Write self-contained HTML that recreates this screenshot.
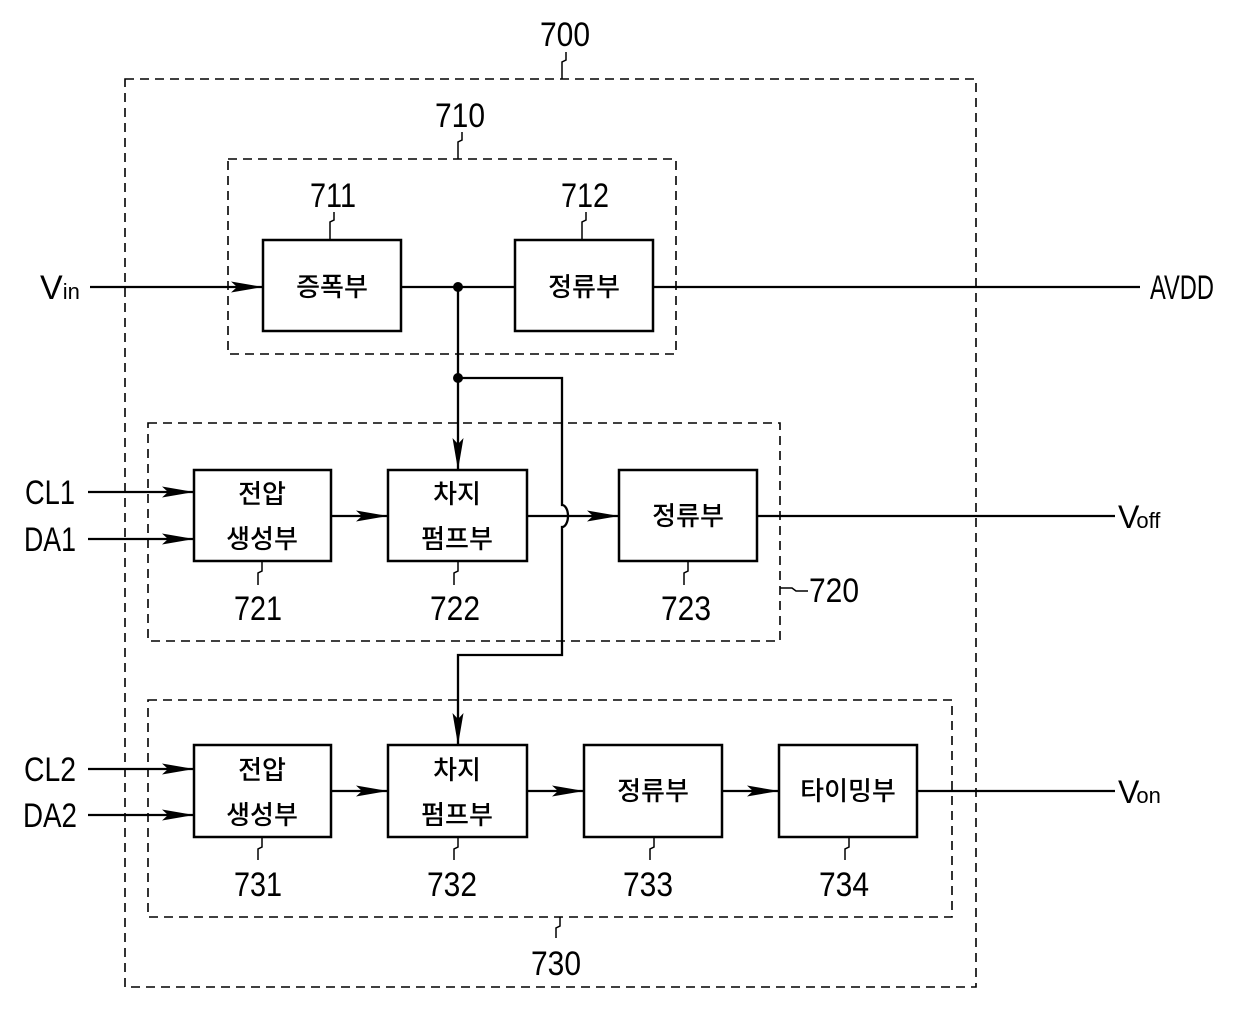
<!DOCTYPE html>
<html><head><meta charset="utf-8"><style>html,body{margin:0;padding:0;background:#fff}</style></head>
<body>
<svg width="1240" height="1014" viewBox="0 0 1240 1014" xmlns="http://www.w3.org/2000/svg">
<defs>
<marker id="a" markerWidth="32" markerHeight="14" refX="32" refY="7" orient="auto" markerUnits="userSpaceOnUse">
<path d="M0,1.5 L32,7 L0,12.5 L6,7 Z" fill="#000"/>
</marker>
</defs>
<g fill="none" stroke="#000" stroke-width="1.6" stroke-dasharray="9,6">
<rect x="125" y="79" width="851" height="908"/>
<rect x="228" y="159" width="448" height="195"/>
<rect x="148" y="423" width="632" height="218"/>
<rect x="148" y="700" width="804" height="217"/>
</g>
<g fill="#fff" stroke="#000" stroke-width="2.5">
<rect x="263" y="240" width="138" height="91"/>
<rect x="515" y="240" width="138" height="91"/>
<rect x="194" y="470" width="137" height="91"/>
<rect x="388" y="470" width="139" height="91"/>
<rect x="619" y="470" width="138" height="91"/>
<rect x="194" y="745" width="137" height="92"/>
<rect x="388" y="745" width="139" height="92"/>
<rect x="584" y="745" width="138" height="92"/>
<rect x="779" y="745" width="138" height="92"/>
</g>
<g fill="none" stroke="#000" stroke-width="2.3">
<line x1="90" y1="287" x2="263" y2="287" marker-end="url(#a)"/>
<line x1="401" y1="287" x2="515" y2="287"/>
<line x1="653" y1="287" x2="1140" y2="287"/>
<line x1="458" y1="287" x2="458" y2="470" marker-end="url(#a)"/>
<path d="M458,378 H562 V505 A6,11 0 0 1 562,527 V655 H458 V745" marker-end="url(#a)"/>
<line x1="88" y1="492" x2="194" y2="492" marker-end="url(#a)"/>
<line x1="88" y1="539" x2="194" y2="539" marker-end="url(#a)"/>
<line x1="331" y1="516" x2="388" y2="516" marker-end="url(#a)"/>
<line x1="527" y1="516" x2="619" y2="516" marker-end="url(#a)"/>
<line x1="757" y1="516" x2="1115" y2="516"/>
<line x1="88" y1="769" x2="194" y2="769" marker-end="url(#a)"/>
<line x1="88" y1="815" x2="194" y2="815" marker-end="url(#a)"/>
<line x1="331" y1="791" x2="388" y2="791" marker-end="url(#a)"/>
<line x1="527" y1="791" x2="584" y2="791" marker-end="url(#a)"/>
<line x1="722" y1="791" x2="779" y2="791" marker-end="url(#a)"/>
<line x1="917" y1="791" x2="1115" y2="791"/>
</g>
<g fill="#000"><circle cx="458" cy="287" r="5"/><circle cx="458" cy="378" r="5"/></g>
<g fill="none" stroke="#000" stroke-width="1.5">
<path d="M566,52 V60 L562,62 V79"/>
<path d="M462,132 V140 L458,142 V159"/>
<path d="M334,212 V220 L330,222 V240"/>
<path d="M586,212 V220 L582,222 V240"/>
<path d="M262,561 V571 L258,573 V585"/>
<path d="M458,561 V571 L454,573 V585"/>
<path d="M688,561 V571 L684,573 V585"/>
<path d="M262,837 V847 L258,849 V860"/>
<path d="M458,837 V847 L454,849 V860"/>
<path d="M654,837 V847 L650,849 V860"/>
<path d="M849,837 V847 L845,849 V860"/>
<path d="M560,917 V926 L556,928 V938"/>
<path d="M780,588 H792 L796,591 H808"/>
</g>
<g font-family="'Liberation Sans', sans-serif" font-size="34" fill="#000" text-anchor="middle">
<text x="565" y="46" textLength="50" lengthAdjust="spacingAndGlyphs">700</text>
<text x="460" y="127" textLength="50" lengthAdjust="spacingAndGlyphs">710</text>
<text x="333" y="207" textLength="46" lengthAdjust="spacingAndGlyphs">711</text>
<text x="585" y="207" textLength="48" lengthAdjust="spacingAndGlyphs">712</text>
<text x="258" y="620" textLength="48" lengthAdjust="spacingAndGlyphs">721</text>
<text x="455" y="620" textLength="50" lengthAdjust="spacingAndGlyphs">722</text>
<text x="686" y="620" textLength="50" lengthAdjust="spacingAndGlyphs">723</text>
<text x="834" y="602" textLength="50" lengthAdjust="spacingAndGlyphs">720</text>
<text x="258" y="896" textLength="48" lengthAdjust="spacingAndGlyphs">731</text>
<text x="452" y="896" textLength="50" lengthAdjust="spacingAndGlyphs">732</text>
<text x="648" y="896" textLength="50" lengthAdjust="spacingAndGlyphs">733</text>
<text x="844" y="896" textLength="50" lengthAdjust="spacingAndGlyphs">734</text>
<text x="556" y="975" textLength="50" lengthAdjust="spacingAndGlyphs">730</text>
<text x="1182" y="299" textLength="64" lengthAdjust="spacingAndGlyphs">AVDD</text>
<text x="50" y="504" textLength="50" lengthAdjust="spacingAndGlyphs">CL1</text>
<text x="50" y="551" textLength="52" lengthAdjust="spacingAndGlyphs">DA1</text>
<text x="50" y="781" textLength="52" lengthAdjust="spacingAndGlyphs">CL2</text>
<text x="50" y="827" textLength="54" lengthAdjust="spacingAndGlyphs">DA2</text>
</g>
<g font-family="'Liberation Sans', sans-serif" fill="#000">
<text x="40" y="299" font-size="34">V<tspan font-size="22">in</tspan></text>
<text x="1118" y="528" font-size="32">V<tspan font-size="22" dx="-3">off</tspan></text>
<text x="1118" y="803" font-size="32">V<tspan font-size="22" dx="-3">on</tspan></text>
</g>
<g font-family="'Liberation Sans', 'Noto Sans CJK KR', 'NanumGothic', sans-serif" font-size="26" font-weight="500" fill="#000" text-anchor="middle">
<text x="332" y="296">증폭부</text>
<text x="584" y="296">정류부</text>
<text x="262" y="503">전압</text>
<text x="262" y="548">생성부</text>
<text x="457" y="503">차지</text>
<text x="457" y="548">펌프부</text>
<text x="688" y="525">정류부</text>
<text x="262" y="779">전압</text>
<text x="262" y="824">생성부</text>
<text x="457" y="779">차지</text>
<text x="457" y="824">펌프부</text>
<text x="653" y="800">정류부</text>
<text x="848" y="800">타이밍부</text>
</g>
</svg>
</body></html>
